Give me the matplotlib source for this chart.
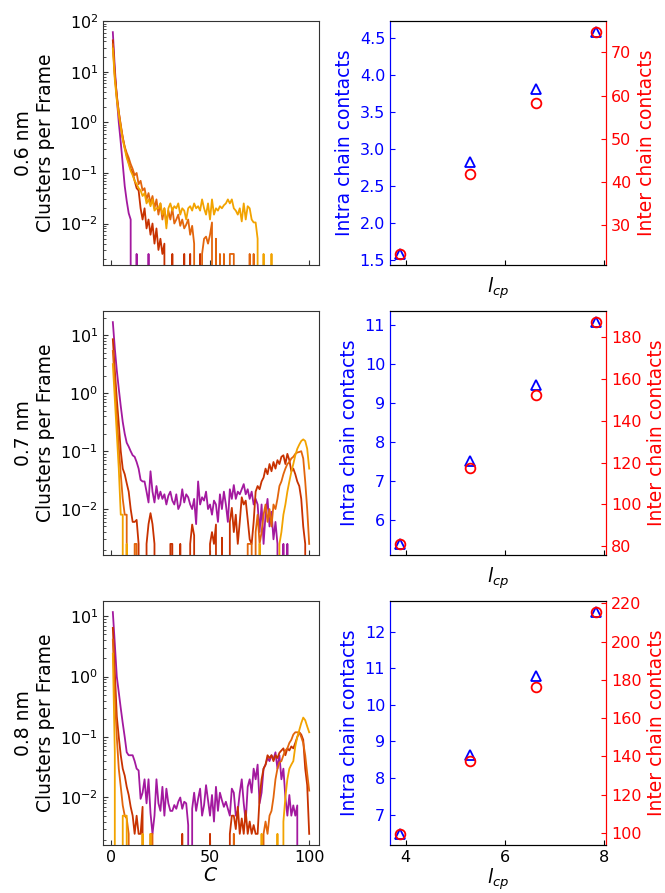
import numpy as np
import matplotlib
matplotlib.use("Agg")
import matplotlib.pyplot as plt

# cluster size axis
C = np.arange(1, 101)

# ---- 0.6 nm cutoff: clusters per frame ----
p06_purple = [61, 12, 3.0, 1.0, 0.4, 0.15, 0.055, 0.028, 0.016, 0.012,
              0, 0, 0.0025, 0, 0, 0, 0, 0, 0.0025, 0,
              0, 0, 0, 0, 0, 0, 0, 0, 0, 0,
              0, 0, 0, 0, 0, 0, 0, 0, 0, 0,
              0, 0, 0, 0, 0, 0, 0, 0, 0, 0,
              0, 0, 0, 0, 0, 0, 0, 0, 0, 0,
              0, 0, 0, 0, 0, 0, 0, 0, 0, 0,
              0, 0, 0, 0, 0, 0, 0, 0, 0, 0,
              0, 0, 0, 0, 0, 0, 0, 0, 0, 0,
              0, 0, 0, 0, 0, 0, 0, 0, 0, 0]
p06_red = [42, 9, 3.5, 1.6, 0.85, 0.5, 0.32, 0.22, 0.16, 0.12,
           0.1, 0.07, 0.05, 0.045, 0.02, 0.012, 0.02, 0.008, 0.012, 0.006,
           0.01, 0.004, 0.008, 0.003, 0.005, 0.0025, 0.004, 0, 0, 0,
           0.0025, 0, 0, 0, 0, 0, 0.0025, 0, 0, 0.0025,
           0, 0, 0, 0, 0.0025, 0, 0, 0, 0, 0,
           0, 0, 0, 0, 0, 0, 0, 0, 0, 0,
           0, 0, 0, 0, 0, 0, 0, 0, 0, 0,
           0, 0, 0, 0, 0, 0, 0, 0, 0, 0,
           0, 0, 0, 0, 0, 0, 0, 0, 0, 0,
           0, 0, 0, 0, 0, 0, 0, 0, 0, 0]
p06_orange = [35, 8, 3.2, 1.6, 0.9, 0.5, 0.33, 0.25, 0.2, 0.15,
              0.12, 0.09, 0.1, 0.06, 0.07, 0.045, 0.05, 0.03, 0.04, 0.025,
              0.035, 0.02, 0.03, 0.015, 0.025, 0.012, 0.02, 0.01, 0.018, 0.012,
              0.02, 0.01, 0.012, 0.015, 0.009, 0.012, 0.008, 0.0095, 0.012, 0.006,
              0.009, 0.004, 0, 0, 0, 0.0025, 0.005, 0.0055, 0.004, 0.006,
              0.0105, 0, 0.005, 0, 0.0025, 0, 0.0025, 0, 0, 0.0025,
              0.0025, 0.0025, 0, 0, 0, 0, 0, 0, 0, 0.0025,
              0, 0.0025, 0, 0, 0, 0, 0, 0, 0, 0,
              0, 0, 0, 0, 0, 0, 0, 0, 0, 0,
              0, 0, 0, 0, 0, 0, 0, 0, 0, 0]
p06_yellow = [29, 7, 2.8, 1.4, 0.8, 0.45, 0.3, 0.2, 0.15, 0.11,
              0.09, 0.07, 0.06, 0.05, 0.045, 0.035, 0.04, 0.025, 0.03, 0.022,
              0.03, 0.018, 0.02, 0.02, 0.025, 0.015, 0.02, 0.008, 0.02, 0.025,
              0.018, 0.022, 0.02, 0.025, 0.015, 0.02, 0.018, 0.012, 0.02, 0.022,
              0.018, 0.025, 0.02, 0.022, 0.018, 0.03, 0.02, 0.015, 0.025, 0.012,
              0.03, 0.015, 0.02, 0.018, 0.022, 0.02, 0.023, 0.025, 0.03, 0.025,
              0.03, 0.02, 0.018, 0.015, 0.02, 0.011, 0.025, 0.012, 0.022, 0.02,
              0.012, 0.0105, 0.0105, 0.005, 0, 0, 0.0025, 0, 0, 0,
              0.0025, 0, 0, 0, 0, 0, 0, 0, 0, 0,
              0, 0, 0, 0, 0, 0, 0, 0, 0, 0]

# ---- 0.7 nm cutoff ----
p07_purple = [17, 6, 2.5, 1.2, 0.6, 0.32, 0.2, 0.14, 0.12, 0.1,
              0.085, 0.08, 0.065, 0.05, 0.032, 0.03, 0.03, 0.02, 0.013, 0.045,
              0.02, 0.013, 0.025, 0.015, 0.02, 0.015, 0.018, 0.012, 0.017, 0.02,
              0.014, 0.012, 0.018, 0.01, 0.012, 0.022, 0.013, 0.018, 0.016, 0.012,
              0.01, 0.015, 0.0055, 0.03, 0.012, 0.016, 0.014, 0.02, 0.01, 0.012,
              0.008, 0.014, 0.012, 0.006, 0.018, 0.01, 0.02, 0.012, 0.006, 0.022,
              0.015, 0.026, 0.015, 0.02, 0.018, 0.022, 0.027, 0.018, 0.022, 0.015,
              0.02, 0.012, 0.015, 0.012, 0.004, 0.012, 0.0025, 0.008, 0.015, 0.005,
              0.009, 0.003, 0.006, 0.0025, 0, 0, 0.0025, 0, 0.0025, 0,
              0, 0, 0, 0, 0, 0, 0, 0, 0, 0]
p07_red = [8.6, 2.5, 0.8, 0.3, 0.1, 0.05, 0.04, 0.028, 0.02, 0.01,
           0.006, 0.006, 0.0065, 0.0025, 0, 0, 0, 0.0025, 0.0055, 0.0085,
           0.0055, 0.0025, 0, 0, 0, 0, 0, 0, 0, 0.0025,
           0.0025, 0, 0, 0, 0.0025, 0, 0, 0, 0, 0.0025,
           0.0054, 0.0035, 0, 0, 0, 0, 0, 0, 0, 0.0025,
           0.004, 0.0025, 0.0054, 0, 0, 0.0032, 0, 0, 0, 0.006,
           0.0105, 0.004, 0.008, 0.0025, 0.006, 0.016, 0.012, 0.014, 0.0066, 0.003,
           0.0025, 0.006, 0.02, 0.025, 0.022, 0.03, 0.035, 0.05, 0.04, 0.06,
           0.045, 0.065, 0.05, 0.07, 0.06, 0.08, 0.085, 0.06, 0.09, 0.07,
           0.045, 0.05, 0.04, 0.03, 0.025, 0.015, 0.005, 0.0025, 0, 0]
p07_orange = [5.4, 1.5, 0.4, 0.12, 0.04, 0.015, 0.008, 0.008, 0, 0,
              0, 0.0025, 0.0025, 0, 0, 0, 0, 0, 0, 0,
              0, 0, 0, 0, 0, 0, 0, 0, 0, 0,
              0, 0, 0, 0, 0, 0, 0, 0, 0, 0,
              0, 0, 0, 0, 0, 0, 0, 0, 0, 0,
              0, 0, 0, 0, 0, 0, 0, 0, 0, 0,
              0, 0, 0, 0, 0, 0, 0, 0, 0.0025, 0.0025,
              0.0025, 0, 0.004, 0.008, 0.0025, 0.004, 0.008, 0.012, 0.006, 0.01,
              0.005, 0.012, 0.01, 0.015, 0.025, 0.03, 0.04, 0.05, 0.06, 0.065,
              0.075, 0.08, 0.09, 0.095, 0.097, 0.1, 0.075, 0.03, 0.01, 0.0025]
p07_yellow = [3.2, 0.8, 0.2, 0.05, 0.008, 0.008, 0, 0.0025, 0, 0,
              0, 0, 0, 0, 0, 0, 0, 0, 0, 0,
              0, 0, 0, 0, 0, 0, 0, 0, 0, 0,
              0, 0, 0, 0, 0, 0, 0, 0, 0, 0,
              0, 0, 0, 0, 0, 0, 0, 0, 0, 0,
              0, 0, 0, 0, 0, 0, 0, 0, 0, 0,
              0, 0, 0, 0, 0, 0, 0, 0, 0, 0,
              0, 0, 0, 0, 0.0025, 0, 0, 0, 0, 0,
              0, 0, 0, 0, 0.0025, 0.004, 0.008, 0.012, 0.02, 0.03,
              0.044, 0.06, 0.085, 0.11, 0.13, 0.15, 0.16, 0.15, 0.11, 0.05]

# ---- 0.8 nm cutoff ----
p08_purple = [11.7, 3.5, 1.0, 0.55, 0.3, 0.17, 0.1, 0.056, 0.05, 0.05,
              0.05, 0.04, 0.03, 0.028, 0.0095, 0.012, 0.02, 0.008, 0.02, 0.0055,
              0.0025, 0.005, 0.02, 0.008, 0.006, 0.015, 0.005, 0.014, 0.008, 0.006,
              0.006, 0.0075, 0.0065, 0.0085, 0.01, 0.0065, 0.0085, 0.008, 0.0035, 0,
              0.0065, 0.012, 0.006, 0.0095, 0.014, 0.005, 0.0075, 0.016, 0.009, 0.005,
              0.011, 0.004, 0.015, 0.006, 0.012, 0.009, 0.007, 0.0085, 0.0065, 0.005,
              0.014, 0.012, 0.005, 0.006, 0.012, 0.02, 0.008, 0.004, 0.015, 0.02,
              0.012, 0.03, 0.02, 0.035, 0.008, 0.012, 0.03, 0.035, 0.045, 0.04,
              0.05, 0.043, 0.056, 0.03, 0.05, 0.02, 0.03, 0.01, 0.005, 0.011,
              0.005, 0.0074, 0.005, 0.0074, 0, 0, 0, 0, 0, 0]
p08_red = [6.4, 1.2, 0.22, 0.1, 0.05, 0.03, 0.023, 0.015, 0.011, 0.007,
           0.005, 0.0025, 0.005, 0.0025, 0.0025, 0.007, 0, 0, 0, 0,
           0, 0, 0, 0, 0, 0, 0, 0, 0, 0,
           0, 0, 0, 0, 0, 0.0025, 0, 0, 0, 0,
           0, 0, 0, 0, 0, 0, 0, 0, 0, 0.0025,
           0, 0, 0, 0, 0, 0, 0, 0, 0, 0.0025,
           0.005, 0.005, 0.003, 0.007, 0.0025, 0.0045, 0.0025, 0.006, 0.0025, 0.004,
           0.0025, 0.0035, 0.0025, 0.0025, 0.01, 0.02, 0.03, 0.035, 0.05, 0.045,
           0.05, 0.04, 0.05, 0.045, 0.055, 0.06, 0.065, 0.05, 0.065, 0.06,
           0.07, 0.065, 0.08, 0.1, 0.12, 0.11, 0.09, 0.03, 0.016, 0.0025]
p08_orange = [4.1, 0.5, 0.1, 0.03, 0.015, 0.0074, 0.005, 0.0045, 0.0025, 0,
              0, 0, 0, 0, 0, 0, 0, 0, 0, 0.0025,
              0.0025, 0, 0, 0, 0, 0, 0, 0, 0, 0,
              0, 0, 0, 0, 0, 0, 0, 0, 0, 0,
              0, 0, 0, 0, 0, 0, 0, 0, 0, 0,
              0, 0, 0, 0, 0, 0, 0, 0, 0, 0,
              0, 0.0025, 0, 0, 0, 0, 0, 0, 0, 0,
              0, 0, 0, 0, 0, 0, 0.0025, 0.004, 0.0025, 0.005,
              0.006, 0.01, 0.02, 0.03, 0.038, 0.04, 0.05, 0.06, 0.065, 0.08,
              0.09, 0.11, 0.12, 0.12, 0.12, 0.1, 0.08, 0.05, 0.025, 0.013]
p08_yellow = [2.4, 0.056, 0, 0, 0, 0.005, 0.005, 0.005, 0, 0,
              0, 0, 0, 0, 0, 0.0025, 0, 0, 0, 0.0025,
              0, 0, 0, 0, 0, 0, 0, 0, 0, 0,
              0, 0, 0, 0, 0, 0, 0, 0, 0, 0,
              0, 0, 0, 0, 0, 0, 0, 0, 0, 0,
              0, 0, 0, 0, 0, 0, 0, 0, 0, 0,
              0, 0, 0, 0, 0, 0, 0, 0, 0, 0,
              0, 0, 0, 0, 0, 0.0025, 0, 0, 0, 0,
              0, 0, 0, 0.0025, 0, 0, 0.004, 0.01, 0.02, 0.03,
              0.035, 0.04, 0.07, 0.1, 0.13, 0.17, 0.21, 0.19, 0.15, 0.12]

# ---- contacts vs l_cp ----
lcp = [3.88, 5.30, 6.62, 7.84]
intra06 = [1.58, 2.82, 3.81, 4.58]
inter06 = [23.4, 41.9, 58.4, 74.7]
intra07 = [5.40, 7.52, 9.48, 11.08]
inter07 = [81.0, 117.4, 152.6, 187.3]
intra08 = [6.48, 8.64, 10.79, 12.53]
inter08 = [99.5, 137.8, 176.1, 215.5]

cutoffs = ['0.6 nm', '0.7 nm', '0.8 nm']
hist_sets = [
    [p06_purple, p06_red, p06_orange, p06_yellow],
    [p07_purple, p07_red, p07_orange, p07_yellow],
    [p08_purple, p08_red, p08_orange, p08_yellow],
]
intra_sets = [intra06, intra07, intra08]
inter_sets = [inter06, inter07, inter08]
line_colors = ['#a3199f', '#c83200', '#e2650c', '#f2a300']

fig = plt.figure(figsize=(6.65, 8.93), dpi=100)
bottoms = [0.7032, 0.3785, 0.0538]
h = 0.2732
w = 0.3248
tick_fs = 11.5
label_fs = 13.5

for i in range(3):
    # left: cluster size distribution
    ax = fig.add_axes([0.1549, bottoms[i], w, h])
    for ys, col in zip(hist_sets[i], line_colors):
        ax.plot(C, ys, color=col, lw=1.3)
    ax.set_yscale('log')
    ax.set_xticks([0, 50, 100])
    ax.tick_params(which='both', direction='in', labelsize=tick_fs, colors='#333333',
                   labelcolor='black')
    for sp in ax.spines.values():
        sp.set_color('#333333')
    ax.set_ylabel(cutoffs[i] + '\nClusters per Frame', fontsize=label_fs)
    if i < 2:
        ax.set_xticklabels([])
    else:
        ax.set_xlabel('$C$', fontsize=label_fs, labelpad=1)

    # right: intra/inter chain contacts
    ax1 = fig.add_axes([0.5865, bottoms[i], w, h])
    ax1.plot(lcp, intra_sets[i], '^', ms=7, mfc='none', mec='blue', mew=1.3)
    ax1.set_ylabel('Intra chain contacts', color='blue', fontsize=label_fs)
    ax1.tick_params(axis='y', direction='in', colors='blue', labelsize=tick_fs)
    ax1.tick_params(axis='x', direction='in', labelsize=tick_fs)
    ax1.set_xticks([4, 6, 8])
    if i < 2:
        ax1.set_xticklabels([])
        ax1.set_xlabel('$l_{cp}$', fontsize=label_fs)
    else:
        ax1.set_xlabel('$l_{cp}$', fontsize=label_fs, labelpad=1)

    ax2 = ax1.twinx()
    ax2.plot(lcp, inter_sets[i], 'o', ms=7, mfc='none', mec='red', mew=1.3)
    ax2.set_ylabel('Inter chain contacts', color='red', fontsize=label_fs)
    ax2.tick_params(axis='y', direction='in', colors='red', labelsize=tick_fs)
    ax2.spines['left'].set_color('blue')
    ax2.spines['right'].set_color('red')
    ax1.spines['left'].set_color('blue')
    ax1.spines['right'].set_color('red')

fig.savefig('out.png', dpi=100)
